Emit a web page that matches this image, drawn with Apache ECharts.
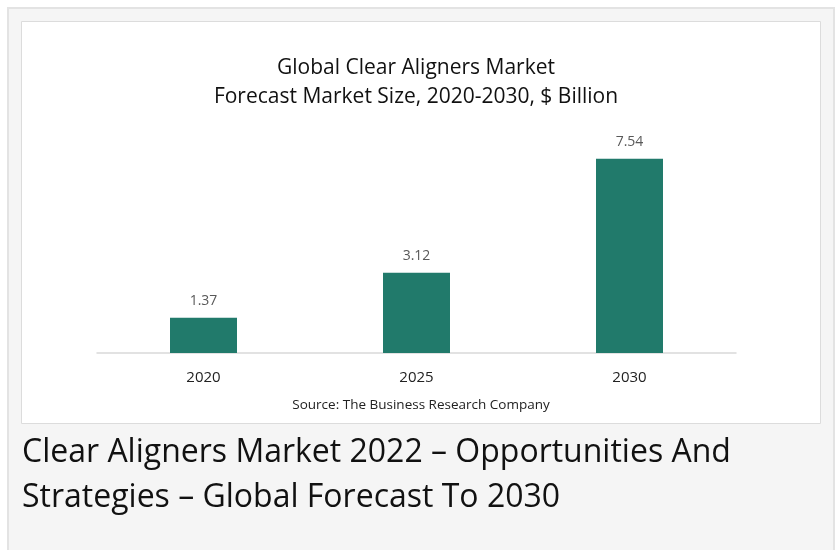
<!DOCTYPE html>
<html>
<head>
<meta charset="utf-8">
<script src="https://cdn.jsdelivr.net/npm/echarts@6/dist/echarts.min.js"></script>
<style>
  html, body { margin: 0; padding: 0; background: #fff; }
  #chart { width: 836px; height: 550px; }
</style>
</head>
<body>
<div id="chart"></div>
<script>
// data
const years = ['2020', '2025', '2030'];
const marketSize = [1.37, 3.12, 7.54];
const chartTitle = 'Global Clear Aligners Market\nForecast Market Size, 2020-2030, $ Billion';
const sourceText = 'Source: The Business Research Company';
const captionText = 'Clear Aligners Market 2022 – Opportunities And\nStrategies – Global Forecast To 2030';

const font = '"Open Sans", "Noto Sans", sans-serif';
const myChart = echarts.init(document.getElementById('chart'));

const option = {
    backgroundColor: '#fff',
    animation: false,
    graphic: [
        // outer grey panel
        {
            type: 'rect', z: -10, silent: true,
            shape: { x: 8, y: 8, width: 826, height: 560 },
            style: { fill: '#f5f5f5', stroke: '#e3e3e3', lineWidth: 2 }
        },
        // white chart box
        {
            type: 'rect', z: -9, silent: true,
            shape: { x: 21.5, y: 21.5, width: 799, height: 402 },
            style: { fill: '#fff', stroke: '#dcdcdc', lineWidth: 1 }
        },
        {
            type: 'text', silent: true,
            style: {
                x: 421, y: 405, text: sourceText, fill: '#222',
                font: '13.5px ' + font, textAlign: 'center', textVerticalAlign: 'middle'
            }
        },
        {
            type: 'text', left: 22, top: 430, silent: true,
            style: { text: captionText, fill: '#111', font: '32px ' + font, lineHeight: 45 }
        }
    ],
    title: {
        text: chartTitle,
        left: 411,
        top: 49,
        textAlign: 'center',
        textStyle: {
            fontFamily: font,
            fontSize: 21,
            fontWeight: 'normal',
            color: '#111',
            lineHeight: 29
        }
    },
    grid: {
        left: 97,
        right: 100,
        top: 147,
        bottom: 197
    },
    xAxis: {
        type: 'category',
        data: years,
        axisTick: { show: false },
        axisLine: { lineStyle: { color: '#d9d9d9', width: 1.5 } },
        axisLabel: {
            margin: 17,
            fontFamily: font,
            fontSize: 15,
            color: '#222'
        }
    },
    yAxis: {
        type: 'value',
        min: 0,
        max: 8,
        show: false,
        splitLine: { show: false }
    },
    series: [{
        type: 'bar',
        data: marketSize,
        barWidth: 67,
        itemStyle: { color: '#217a6b' },
        label: {
            show: true,
            position: 'top',
            distance: 10,
            fontFamily: font,
            fontSize: 14,
            color: '#595959',
            formatter: p => p.value.toFixed(2)
        }
    }]
};

myChart.setOption(option);
</script>
</body>
</html>
